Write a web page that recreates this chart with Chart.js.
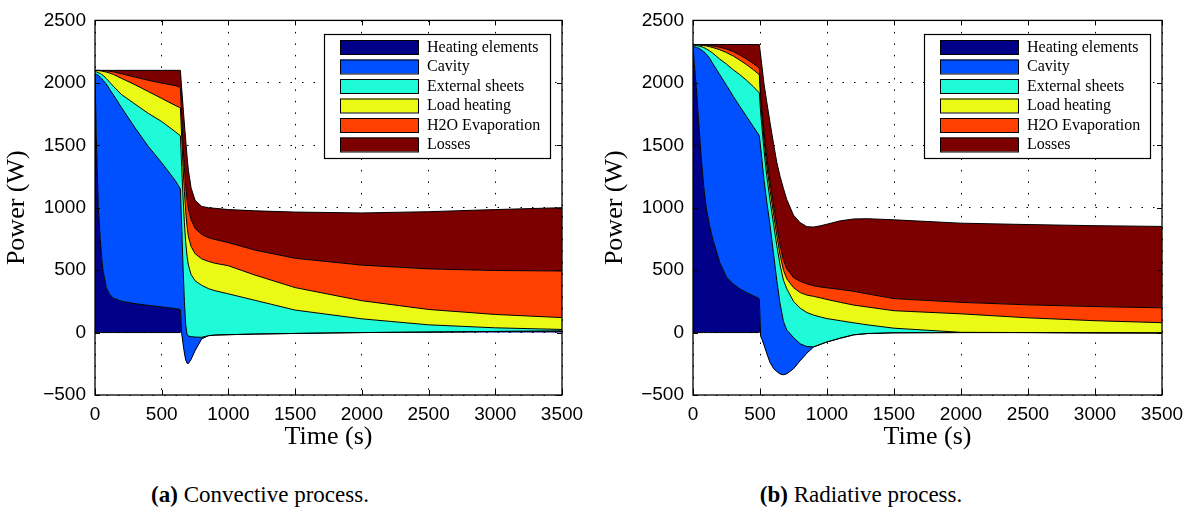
<!DOCTYPE html>
<html>
<head>
<meta charset="utf-8">
<script src="https://cdn.jsdelivr.net/npm/chart.js@4.4.1/dist/chart.umd.min.js"></script>
<style>
  html, body { margin: 0; padding: 0; background: #fff; }
  #wrap { position: relative; width: 1196px; height: 516px; overflow: hidden; }
  .box { position: absolute; top: 0; width: 598px; height: 460px; }
  .cap { position: absolute; top: 482px; font-family: "Liberation Serif", serif; font-size: 23px; color: #000; white-space: nowrap; transform: translateX(-50%); }
</style>
</head>
<body>
<div id="wrap">
  <div class="box" style="left:0"><canvas id="chartA" width="598" height="460"></canvas></div>
  <div class="box" style="left:598px"><canvas id="chartB" width="598" height="460"></canvas></div>
  <div class="cap" style="left:260px"><b>(a)</b> Convective process.</div>
  <div class="cap" style="left:861px"><b>(b)</b> Radiative process.</div>
</div>
<script>
// series names and colours (stack order, bottom first)
const names = ['Heating elements', 'Cavity', 'External sheets', 'Load heating', 'H2O Evaporation', 'Losses'];
const colors = ['#000088', '#0050ff', '#1ffad8', '#eafa14', '#ff4000', '#7d0000'];

// (a) convective process - top edge of each stacked layer (W)
const timeA = [0, 10, 25, 40, 50, 60, 85, 110, 140, 200, 300, 400, 500, 600, 640, 650, 660, 670, 680, 690,
               700, 720, 750, 800, 850, 900, 1000, 1200, 1500, 2000, 2500, 3000, 3500];
const heatA = [2080, 1550, 1000, 740, 600, 500, 360, 305, 275, 250, 232, 218, 205, 193, 185, -10, -90, -165, -220, -245,
               -248, -215, -145, -50, -25, -20, -17, -12, -7, 0, 4, 9, 12];
const cavA = [2070, 2068, 2060, 2045, 2035, 2022, 1990, 1948, 1900, 1800, 1640, 1490, 1360, 1220, 1150, 850, 520, 250, 60, -15,
              -28, -33, -36, -38, -25, -20, -17, -12, -7, 0, 4, 9, 12];
const sheetA = [2090, 2088, 2082, 2074, 2068, 2060, 2035, 2005, 1970, 1905, 1830, 1755, 1690, 1610, 1576, 1320, 1080, 880, 720, 610,
                540, 465, 415, 378, 352, 335, 310, 258, 180, 110, 62, 38, 25];
const loadA = [2100, 2099, 2098, 2096, 2094, 2092, 2086, 2078, 2066, 2035, 1985, 1930, 1875, 1820, 1800, 1560, 1320, 1130, 970, 850,
               770, 690, 632, 590, 570, 555, 535, 460, 360, 255, 185, 145, 120];
const evapA = [2100, 2100, 2100, 2099, 2099, 2098, 2096, 2093, 2088, 2072, 2046, 2020, 1998, 1978, 1964, 1720, 1500, 1320, 1170, 1065,
               990, 905, 835, 785, 760, 745, 720, 660, 595, 540, 510, 497, 493];
const lossA = [2100, 2100, 2100, 2100, 2100, 2100, 2100, 2100, 2100, 2100, 2100, 2100, 2100, 2100, 2100, 1950, 1810, 1670, 1540, 1410,
               1300, 1160, 1060, 1010, 1000, 995, 985, 975, 965, 958, 968, 985, 1000];

// (b) radiative process
const timeB = [0, 10, 25, 40, 60, 80, 100, 125, 150, 200, 250, 300, 350, 400, 450, 495, 505, 515, 530, 550,
               575, 600, 625, 650, 675, 700, 750, 800, 850, 900, 950, 1000, 1100, 1200, 1300, 1500, 2000, 2500, 3000, 3500];
const heatB = [2290, 2150, 1960, 1720, 1420, 1170, 990, 850, 740, 560, 445, 390, 350, 320, 295, 272, -30, -55, -100, -166,
               -240, -285, -312, -332, -338, -330, -290, -225, -165, -115, -95, -75, -45, -18, -8, -2, 0, 0, -2, -3];
const cavB = [2290, 2289, 2285, 2278, 2266, 2250, 2230, 2195, 2150, 2065, 1980, 1893, 1810, 1730, 1650, 1576, 1480, 1380, 1220, 1050,
              860, 640, 420, 230, 90, 20, -40, -90, -112, -115, -95, -75, -45, -18, -8, -2, 0, 0, -2, -3];
const sheetB = [2300, 2300, 2298, 2295, 2290, 2283, 2272, 2255, 2235, 2190, 2150, 2105, 2065, 2020, 1970, 1919, 1760, 1640, 1460, 1260,
                1060, 880, 700, 540, 420, 350, 250, 195, 160, 140, 125, 112, 95, 78, 62, 35, 2, 0, -2, -3];
const loadB = [2305, 2305, 2304, 2303, 2301, 2298, 2295, 2289, 2282, 2265, 2242, 2215, 2182, 2145, 2105, 2064, 1850, 1720, 1540, 1340,
               1140, 960, 780, 620, 500, 430, 360, 320, 300, 290, 278, 265, 242, 220, 205, 175, 150, 118, 95, 79];
const evapB = [2307, 2307, 2307, 2306, 2305, 2304, 2302, 2299, 2295, 2285, 2270, 2250, 2222, 2190, 2155, 2117, 1920, 1790, 1610, 1410,
               1210, 1030, 860, 700, 580, 510, 440, 410, 390, 375, 365, 358, 345, 330, 310, 272, 242, 222, 208, 198];
const lossB = [2307, 2307, 2307, 2307, 2307, 2307, 2307, 2307, 2307, 2307, 2307, 2307, 2307, 2307, 2307, 2307, 2220, 2130, 1990, 1850,
               1680, 1520, 1365, 1250, 1154, 1065, 940, 880, 848, 845, 855, 868, 895, 910, 912, 903, 876, 865, 856, 850];

const yTicks = [-500, 0, 500, 1000, 1500, 2000, 2500];
const xTicks = [0, 500, 1000, 1500, 2000, 2500, 3000, 3500];

function pts(times, vals) {
  return times.map((t, i) => ({x: t, y: vals[i]}));
}

// black bottom edge of the heating patch, up to where it first drops out
function baseline(times, heat) {
  let last = 0;
  while (last + 1 < heat.length && heat[last + 1] > 0) last++;
  return times.slice(0, last + 1).map(t => ({x: t, y: 0}));
}

// MATLAB-like box, inward ticks and legend
const matlabFrame = {
  id: 'matlabFrame',
  afterDraw(chart) {
    const {ctx, chartArea: a, scales} = chart;
    const x = scales.x, y = scales.y;
    ctx.save();
    ctx.strokeStyle = '#000';
    ctx.lineWidth = 1;
    ctx.beginPath();
    xTicks.forEach(v => {
      const px = Math.round(x.getPixelForValue(v)) + 0.5;
      ctx.moveTo(px, a.bottom); ctx.lineTo(px, a.bottom - 5);
      ctx.moveTo(px, a.top); ctx.lineTo(px, a.top + 5);
    });
    yTicks.forEach(v => {
      const py = Math.round(y.getPixelForValue(v)) + 0.5;
      ctx.moveTo(a.left, py); ctx.lineTo(a.left + 5, py);
      ctx.moveTo(a.right, py); ctx.lineTo(a.right - 5, py);
    });
    ctx.stroke();
    ctx.lineWidth = 1.3;
    ctx.strokeRect(a.left, a.top, a.right - a.left, a.bottom - a.top);

    // legend
    const lw = 226, lh = 124;
    const lx = Math.round(a.right - 12 - lw), ly = Math.round(a.top + 14);
    ctx.fillStyle = '#fff';
    ctx.fillRect(lx, ly, lw, lh);
    ctx.lineWidth = 1.2;
    ctx.strokeRect(lx + 0.5, ly + 0.5, lw, lh);
    ctx.font = '16px "Liberation Serif", serif';
    ctx.textBaseline = 'middle';
    ctx.textAlign = 'left';
    names.forEach((n, i) => {
      const cy = ly + 13 + i * 19.5;
      ctx.fillStyle = colors[i];
      ctx.fillRect(lx + 16, cy - 7, 78, 14);
      ctx.lineWidth = 1;
      ctx.strokeRect(lx + 16.5, cy - 6.5, 78, 14);
      ctx.fillStyle = '#000';
      ctx.fillText(n, lx + 103, cy + 0.5);
    });
    ctx.restore();
  }
};

function makeChart(id, times, layers, rightPad) {
  const datasets = layers.map((vals, i) => ({
    label: names[i],
    data: pts(times, vals),
    backgroundColor: colors[i],
    borderColor: '#000',
    borderWidth: 1,
    pointRadius: 0,
    tension: 0,
    fill: i === 0 ? 'origin' : '-1',
    order: 10 - i
  }));
  datasets.push({
    label: 'base',
    data: baseline(times, layers[0]),
    borderColor: '#000',
    borderWidth: 1,
    pointRadius: 0,
    fill: false,
    order: 0
  });

  return new Chart(document.getElementById(id).getContext('2d'), {
    type: 'line',
    data: {datasets: datasets},
    options: {
      responsive: false,
      animation: false,
      layout: {padding: {left: 0, right: rightPad, top: 17, bottom: 0}},
      plugins: {
        legend: {display: false},
        tooltip: {enabled: false},
        filler: {drawTime: 'beforeDatasetsDraw'}
      },
      scales: {
        x: {
          type: 'linear',
          min: 0, max: 3500,
          afterBuildTicks: s => { s.ticks = xTicks.map(v => ({value: v})); },
          afterFit: s => { s.height = 65; },
          ticks: {
            color: '#000',
            padding: 8,
            maxRotation: 0,
            font: {family: '"Liberation Sans", Arial, sans-serif', size: 19},
            callback: v => String(v)
          },
          grid: {color: '#000', lineWidth: 1, drawTicks: false},
          border: {display: false, dash: [1.5, 10]},
          title: {
            display: true,
            text: 'Time (s)',
            color: '#000',
            font: {family: '"Liberation Serif", serif', size: 26},
            padding: {top: 0, bottom: 7}
          }
        },
        y: {
          min: -500, max: 2500,
          afterBuildTicks: s => { s.ticks = yTicks.map(v => ({value: v})); },
          afterFit: s => { s.width = 95; },
          ticks: {
            color: '#000',
            padding: 9,
            font: {family: '"Liberation Sans", Arial, sans-serif', size: 19},
            callback: v => String(v).replace('-', '\u2212')
          },
          grid: {color: '#000', lineWidth: 1, drawTicks: false},
          border: {display: false, dash: [1.5, 10]},
          title: {
            display: true,
            text: 'Power (W)',
            color: '#000',
            font: {family: '"Liberation Serif", serif', size: 26},
            padding: {top: 2, bottom: 0}
          }
        }
      }
    },
    plugins: [matlabFrame]
  });
}

makeChart('chartA', timeA, [heatA, cavA, sheetA, loadA, evapA, lossA], 36);
makeChart('chartB', timeB, [heatB, cavB, sheetB, loadB, evapB, lossB], 34);
</script>
</body>
</html>
